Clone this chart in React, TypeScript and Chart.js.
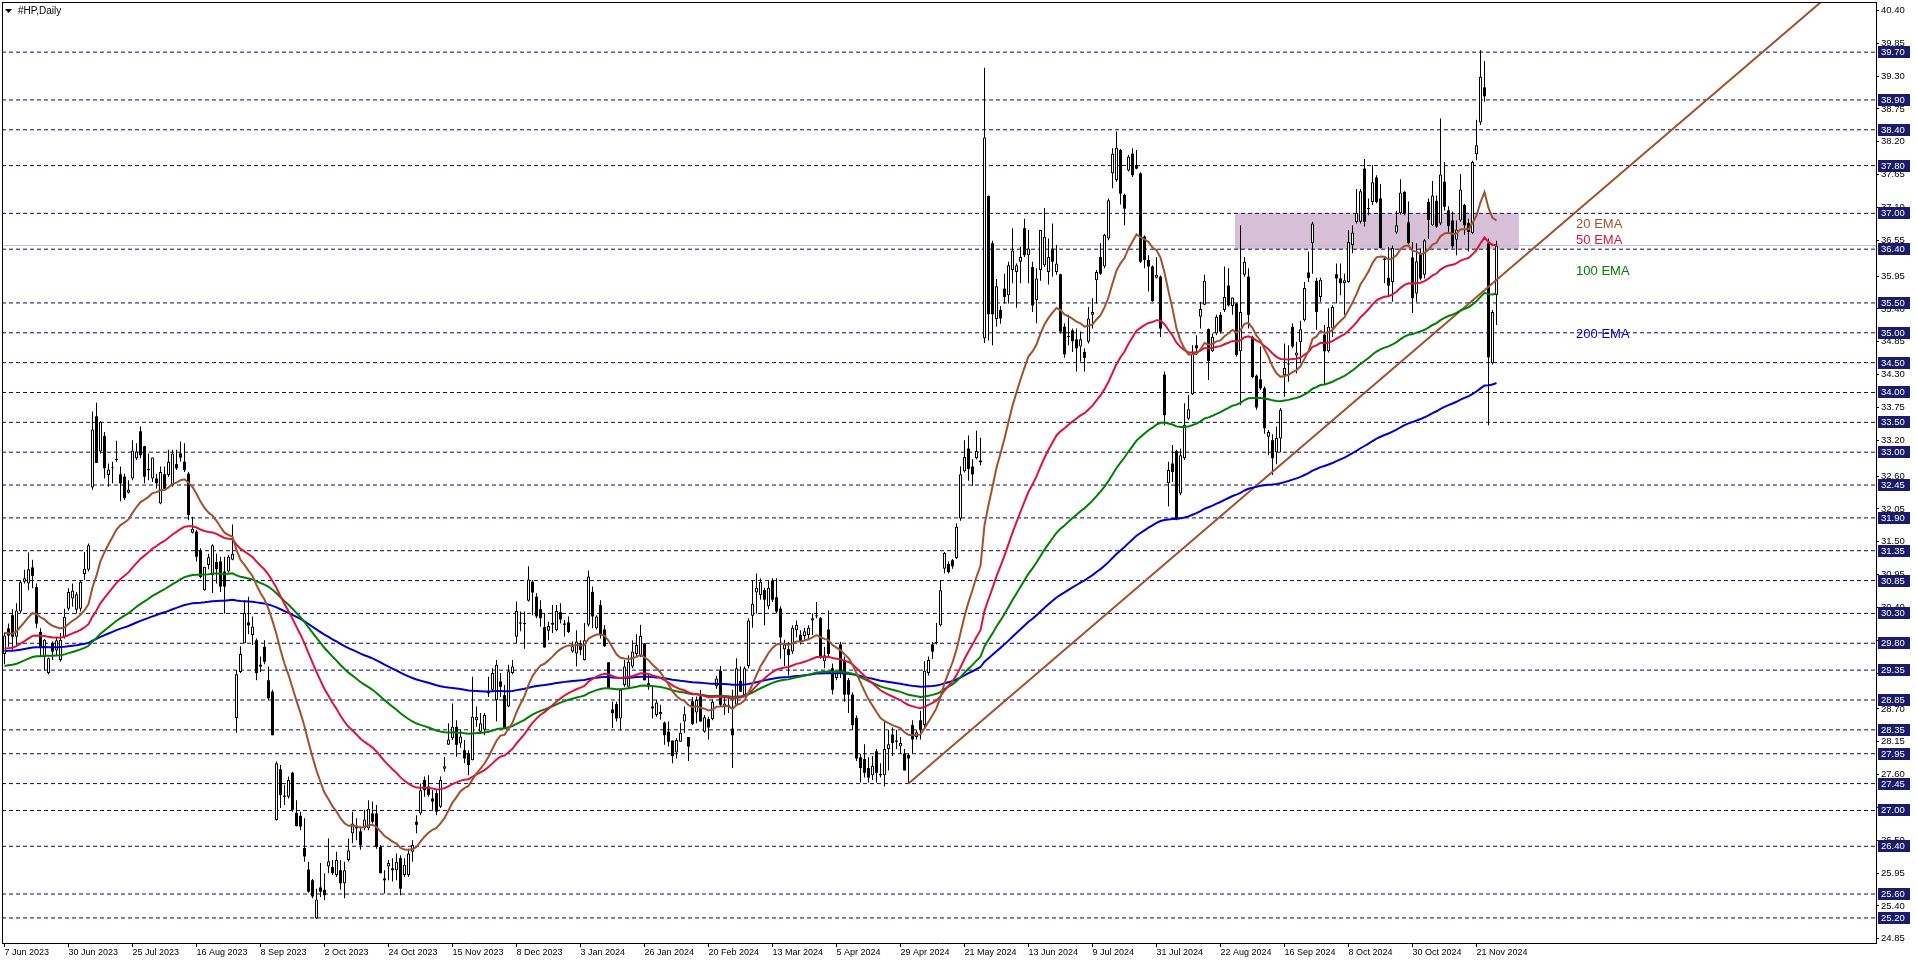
import React, { useEffect, useRef } from "react";
import { Chart, registerables } from "chart.js";

Chart.register(...registerables);

// ---- Daily OHLC of #HP, bar 0 = 7 Jun 2023 ----
const OPEN = [
  29.62,30.05,30.27,29.91,30.33,30.83,30.80,31.07,30.74,29.99,
  29.57,29.30,29.80,29.68,29.52,29.91,30.38,30.55,30.36,30.38,
  30.96,31.03,32.41,33.60,33.01,33.27,32.62,32.73,32.87,32.63,
  32.59,32.32,32.56,32.90,33.35,33.10,32.72,32.56,32.56,32.14,
  32.63,32.62,32.45,32.80,32.98,32.84,32.64,31.65,31.67,31.36,
  30.69,31.11,30.94,31.16,31.17,31.00,31.00,31.20,28.55,29.32,
  29.80,30.15,29.94,29.85,29.44,29.74,29.18,28.99,26.84,27.69,
  27.25,27.23,27.63,26.96,26.91,26.37,26.01,25.83,25.19,25.71,
  25.67,26.06,26.05,25.92,26.00,25.78,26.17,26.62,26.72,26.65,
  26.70,26.70,26.95,26.95,26.39,25.86,26.06,26.03,26.00,26.20,
  25.92,25.92,26.31,26.81,26.95,27.51,27.40,27.20,27.29,27.06,
  27.70,28.10,28.21,28.40,28.12,28.01,27.96,27.84,28.51,28.32,
  28.35,28.96,29.02,28.85,29.16,28.93,28.74,29.30,29.91,30.15,
  30.12,30.51,30.83,30.58,30.37,30.07,30.01,30.11,30.02,30.32,
  30.13,30.15,29.66,29.63,29.80,29.52,30.11,30.66,30.05,30.44,
  30.03,29.48,28.69,28.78,28.54,29.10,29.07,29.41,29.62,29.60,
  29.80,29.13,28.74,28.60,28.61,28.47,28.32,28.17,27.97,28.15,
  28.49,28.23,28.83,28.64,28.91,28.32,28.53,28.53,29.08,29.34,
  28.74,28.74,28.37,28.77,29.17,28.93,29.42,30.26,30.65,30.61,
  30.69,30.42,30.85,30.57,30.38,29.70,29.70,29.66,30.02,29.94,
  29.92,29.94,30.18,30.25,30.22,29.50,30.03,29.38,29.22,29.78,
  29.50,29.18,28.94,28.55,27.89,27.86,27.71,27.59,27.99,27.61,
  27.59,28.03,28.27,28.17,28.07,27.95,27.93,28.43,28.23,28.51,
  28.43,29.30,29.78,29.80,30.10,31.05,31.13,31.19,31.23,31.89,
  32.68,33.06,32.76,32.90,32.86,34.91,37.29,36.50,35.23,35.38,
  35.74,35.63,36.05,36.02,36.19,36.75,36.30,36.10,35.55,36.05,
  36.13,36.02,36.41,36.02,35.98,35.10,34.93,35.04,34.89,34.77,
  34.68,34.85,35.30,35.88,36.27,36.11,36.58,37.67,37.56,38.06,
  37.31,37.72,38.00,37.81,37.67,36.61,36.22,36.11,35.92,35.94,
  34.30,32.48,32.81,33.02,32.31,32.90,33.56,33.97,34.79,35.27,
  35.47,35.06,34.69,34.99,35.30,35.38,35.79,35.45,35.49,34.69,
  35.97,35.94,34.93,34.28,34.22,34.07,33.26,33.20,33.00,33.23,
  34.29,34.47,35.10,34.62,34.84,35.21,36.01,36.50,35.87,35.60,
  34.97,34.69,35.07,35.98,35.91,35.83,35.85,36.47,36.85,36.86,
  37.75,37.07,37.19,37.60,37.25,36.24,35.92,35.85,36.68,37.00,
  37.36,36.85,36.26,35.66,36.33,35.97,37.19,36.80,37.21,36.83,
  37.53,37.05,36.88,36.56,36.88,37.14,36.84,36.67,37.99,38.52,
  39.11,36.50,34.49,35.63,
];
const HIGH = [
  29.98,30.13,30.37,30.47,30.86,31.03,31.32,31.20,30.80,30.05,
  29.87,29.56,29.83,29.90,29.97,30.38,30.72,30.80,30.66,30.86,
  31.33,31.47,33.68,33.83,33.52,33.34,32.81,32.84,33.19,32.76,
  32.64,32.53,33.20,33.15,33.43,33.11,32.98,32.91,32.64,32.76,
  32.76,33.04,33.04,33.04,33.18,33.15,32.67,31.92,31.70,31.39,
  31.08,31.30,31.46,31.30,31.25,31.25,31.28,31.79,29.35,29.75,
  30.52,30.58,30.25,29.88,29.58,29.85,29.41,29.02,27.82,27.76,
  27.43,27.57,27.65,27.17,26.98,26.87,26.14,25.85,25.69,26.12,
  25.95,26.53,26.17,26.31,26.17,26.14,26.53,26.98,26.87,26.73,
  27.01,27.17,27.15,27.09,26.42,26.00,26.17,26.20,26.28,26.25,
  26.20,26.36,26.50,26.92,27.45,27.57,27.59,27.34,27.34,27.57,
  27.90,28.46,28.79,28.51,28.35,28.18,28.01,29.24,28.74,28.63,
  28.63,29.24,29.38,29.52,29.30,29.10,29.44,29.52,30.50,30.33,
  30.33,31.09,30.86,30.64,30.52,30.30,30.16,30.44,30.44,30.47,
  30.19,30.25,29.83,30.02,29.85,30.14,31.02,30.75,30.27,30.52,
  30.10,29.48,28.82,28.82,29.02,29.52,29.60,29.85,29.95,30.11,
  29.80,29.27,29.07,28.85,28.77,28.49,28.49,28.17,28.21,28.46,
  28.74,28.23,28.90,28.91,29.02,28.60,28.57,28.86,29.25,29.42,
  28.91,28.88,29.02,29.55,29.41,29.41,30.22,30.85,30.97,30.89,
  30.73,30.85,30.89,30.89,30.42,29.86,29.82,30.10,30.18,30.02,
  30.06,30.10,30.30,30.49,30.24,29.74,30.35,29.46,29.34,29.82,
  29.58,29.22,28.98,28.59,27.95,28.11,27.89,27.91,28.03,27.79,
  28.51,28.35,28.39,28.35,28.23,28.03,27.95,28.51,28.35,28.67,
  29.50,29.58,29.82,30.14,30.85,31.33,31.17,31.21,31.81,32.76,
  33.20,33.28,32.88,33.36,33.24,39.44,37.30,36.54,35.90,35.45,
  35.99,36.19,36.75,36.16,36.44,36.91,36.72,36.19,36.08,36.72,
  37.09,36.58,36.83,36.47,35.99,35.16,35.30,35.07,35.07,35.02,
  34.74,35.43,35.58,36.05,36.50,36.66,37.25,38.09,38.37,38.08,
  37.33,37.98,38.09,38.06,37.69,36.63,36.30,36.13,36.27,35.96,
  34.35,32.84,33.12,33.04,33.06,33.82,33.96,34.79,34.96,35.52,
  35.97,35.07,34.99,35.30,35.35,36.11,36.08,35.59,35.50,36.80,
  36.27,36.08,34.95,34.30,34.77,34.10,33.37,33.30,33.43,33.74,
  34.82,34.79,35.16,34.85,35.20,35.85,36.36,36.86,35.92,35.92,
  35.13,35.41,35.46,36.16,36.16,35.99,36.72,36.80,37.41,37.41,
  37.91,37.25,37.81,37.64,37.49,36.26,36.44,36.46,37.04,37.57,
  37.37,37.20,36.52,36.50,36.41,36.57,37.25,37.54,37.30,38.59,
  37.86,37.12,37.03,36.88,37.66,37.16,36.91,37.88,38.57,39.73,
  39.55,36.58,35.38,36.54,
];
const LOW = [
  29.45,29.74,29.69,29.74,30.30,30.80,30.69,30.72,30.05,29.57,
  29.35,29.28,29.52,29.60,29.49,29.88,30.35,30.41,30.30,30.33,
  30.86,31.00,32.37,32.82,32.98,32.56,32.42,32.48,32.84,32.18,
  32.20,32.31,32.53,32.87,32.90,32.48,32.53,32.50,32.39,32.13,
  32.37,32.59,32.42,32.70,32.84,32.67,31.86,31.64,31.17,30.89,
  30.68,31.04,30.64,30.80,30.66,30.30,30.98,31.19,28.30,29.30,
  29.80,29.95,29.77,29.18,29.32,29.45,28.85,28.26,26.83,27.04,
  27.09,27.20,26.98,26.73,26.67,26.14,25.62,25.53,25.18,25.55,
  25.50,25.95,25.92,25.89,25.67,25.53,26.14,26.45,26.50,26.34,
  26.67,26.67,26.78,26.36,25.95,25.61,25.83,25.81,25.83,25.58,
  25.89,25.89,26.14,26.62,26.92,27.23,27.23,27.01,26.92,27.04,
  27.65,28.10,28.18,27.90,28.05,27.79,27.59,27.84,28.40,28.29,
  28.26,28.90,28.99,28.49,28.90,28.37,28.73,29.28,29.80,30.00,
  29.71,30.50,30.27,30.22,30.08,29.73,29.85,29.97,30.00,30.13,
  29.91,29.97,29.64,29.41,29.60,29.51,30.08,30.05,30.03,29.88,
  29.74,29.04,28.38,28.49,28.34,29.07,29.04,29.38,29.58,29.57,
  29.18,29.02,28.54,28.57,28.52,28.10,28.07,27.79,27.87,28.15,
  28.30,27.83,28.43,28.46,28.49,28.30,28.19,28.51,29.04,28.74,
  28.60,28.63,27.71,28.75,28.99,28.90,29.38,30.06,30.30,30.53,
  30.10,30.37,30.49,30.30,29.54,29.42,29.26,29.62,29.90,29.78,
  29.86,29.86,29.94,30.22,29.54,29.38,29.58,28.94,29.18,29.22,
  28.82,28.63,28.35,27.83,27.47,27.55,27.47,27.51,27.47,27.55,
  27.40,27.67,27.91,28.03,27.95,27.67,27.45,27.95,28.19,28.19,
  28.35,29.26,29.54,29.78,30.08,30.97,30.97,31.05,31.21,31.85,
  32.66,32.52,32.44,32.88,32.78,34.83,34.87,34.79,35.10,35.15,
  35.49,35.49,35.83,35.42,35.83,36.27,35.83,35.35,35.16,35.87,
  36.10,35.81,35.94,35.97,34.99,34.58,34.79,34.68,34.35,34.52,
  34.35,34.82,35.07,35.49,35.97,36.08,36.55,37.42,37.53,37.15,
  36.80,37.70,37.61,37.74,36.17,36.08,35.69,35.52,35.91,34.93,
  33.45,32.09,32.50,31.86,32.28,32.87,33.54,33.96,34.63,35.07,
  35.46,34.21,34.68,34.96,34.99,35.35,35.44,35.30,34.60,33.79,
  35.94,35.07,34.24,33.71,34.04,33.31,32.95,32.62,32.80,33.00,
  33.93,34.18,34.74,34.32,34.49,35.19,35.85,35.99,35.05,35.52,
  34.13,34.67,34.93,35.49,35.63,35.30,35.84,36.33,36.83,36.83,
  36.78,36.97,37.14,37.17,36.41,35.83,35.60,35.52,36.66,36.98,
  36.97,36.48,35.33,35.52,35.88,35.91,36.57,36.79,36.76,36.80,
  37.05,36.69,36.41,36.30,36.86,36.64,36.36,36.66,37.89,38.48,
  38.87,33.45,34.47,35.13,
];
const CLOSE = [
  29.93,29.93,29.91,30.35,30.82,30.89,31.04,30.93,30.13,29.74,
  29.86,29.55,29.66,29.85,29.86,30.24,30.66,30.68,30.62,30.83,
  31.05,31.44,33.38,32.82,33.51,32.73,32.71,32.75,32.89,32.48,
  32.23,32.37,33.03,33.01,32.95,32.59,32.70,32.91,32.48,32.67,
  32.39,32.84,32.98,32.73,32.91,32.70,31.95,31.72,31.25,30.91,
  31.08,31.24,31.44,31.04,30.75,30.75,31.25,31.30,29.28,29.62,
  30.31,30.10,30.08,29.30,29.41,29.49,28.88,28.26,27.79,27.26,
  27.23,27.51,27.01,26.74,26.73,26.23,25.64,25.56,25.51,25.64,
  25.58,26.15,25.95,26.17,25.78,26.00,26.33,26.78,26.70,26.42,
  26.85,27.03,26.81,26.39,25.95,25.83,26.12,26.00,26.14,25.69,
  26.09,26.28,26.42,26.76,27.34,27.34,27.26,27.15,26.98,27.51,
  27.74,28.19,28.40,28.10,28.24,27.87,27.76,28.57,28.57,28.46,
  28.60,28.99,29.30,29.44,29.07,28.38,29.33,29.41,30.34,30.13,
  30.14,30.87,30.65,30.25,30.22,29.73,30.09,30.14,30.34,30.20,
  30.11,29.99,29.75,29.83,29.69,29.85,30.92,30.25,30.25,29.94,
  29.75,29.04,28.63,28.54,29.02,29.41,29.49,29.66,29.77,29.92,
  29.18,29.07,28.71,28.81,28.65,28.26,28.15,27.91,28.18,28.30,
  28.61,28.07,28.45,28.85,28.49,28.56,28.39,28.82,29.21,28.77,
  28.79,28.77,28.26,29.38,28.99,29.38,30.18,30.46,30.73,30.83,
  30.53,30.73,30.53,30.33,29.90,29.78,29.60,30.06,30.11,29.84,
  30.00,30.06,30.22,30.27,29.58,29.60,29.62,29.02,29.32,29.30,
  28.94,28.94,28.43,27.87,27.71,27.63,27.55,27.75,27.63,27.59,
  28.03,28.11,28.13,28.15,28.13,27.67,27.87,28.19,28.31,28.35,
  29.34,29.52,29.66,29.82,30.69,31.31,30.99,31.09,31.75,32.63,
  32.92,32.72,32.63,33.02,32.83,38.27,35.31,35.31,35.78,35.24,
  35.60,36.13,36.38,36.13,36.27,36.30,36.41,35.46,35.91,36.72,
  36.61,36.27,36.19,36.16,35.02,34.64,34.95,34.86,34.74,34.89,
  34.58,35.24,35.35,36.02,35.99,36.64,37.22,38.00,38.10,37.33,
  37.08,37.95,37.64,37.75,36.19,36.22,36.11,35.53,35.97,35.07,
  33.62,32.70,32.67,31.89,32.95,33.46,33.72,34.65,34.74,35.40,
  35.87,34.53,34.93,35.27,35.02,35.60,35.46,35.59,34.63,35.35,
  36.19,35.30,34.26,33.75,34.07,33.40,33.34,32.90,33.24,33.71,
  34.41,34.49,34.77,34.67,35.06,35.75,35.92,36.83,35.35,35.89,
  34.69,35.10,35.43,35.91,35.83,35.88,36.52,36.68,37.01,37.37,
  36.86,37.09,37.52,37.19,36.42,36.22,35.79,36.42,36.80,37.35,
  37.00,36.50,35.58,36.20,35.91,36.55,36.89,37.30,36.78,37.65,
  37.11,36.79,36.45,36.73,37.40,36.80,36.69,37.86,38.14,39.29,
  38.96,34.59,35.35,36.46,
];

// ---- axis labels ----
const TICK_STEP = 16; // a date label every 16 bars
const TICK_LABELS = [
  "7 Jun 2023", "30 Jun 2023", "25 Jul 2023", "16 Aug 2023", "8 Sep 2023", "2 Oct 2023",
  "24 Oct 2023", "15 Nov 2023", "8 Dec 2023", "3 Jan 2024", "26 Jan 2024", "20 Feb 2024",
  "13 Mar 2024", "5 Apr 2024", "29 Apr 2024", "21 May 2024", "13 Jun 2024", "9 Jul 2024",
  "31 Jul 2024", "22 Aug 2024", "16 Sep 2024", "8 Oct 2024", "30 Oct 2024", "21 Nov 2024",
];
const Y_TICKS = [
  40.40, 39.85, 39.30, 38.75, 38.20, 37.65, 37.10, 36.55, 35.95, 35.40, 34.85, 34.30,
  33.75, 33.20, 32.60, 32.05, 31.50, 30.95, 30.40, 29.85, 29.30, 28.70, 28.15, 27.60,
  27.05, 26.50, 25.95, 25.40, 24.85,
];

// ---- drawn objects ----
const LEVELS = [
  39.70, 38.90, 38.40, 37.80, 37.00, 36.40, 35.50, 35.00, 34.50, 34.00, 33.50, 33.00,
  32.45, 31.90, 31.35, 30.85, 30.30, 29.80, 29.35, 28.85, 28.35, 27.95, 27.45, 27.00,
  26.40, 25.60, 25.20,
];
const EMA_PERIODS = [20, 50, 100, 200];
const EMA_START = [29.97, 29.71, 29.42, 29.67]; // indicator values on bar 0
const EMA_COLORS = ["#A0522D", "#DC143C", "#008000", "#0000CD"];
const EMA_NAMES = ["20 EMA", "50 EMA", "100 EMA", "200 EMA"];
const EMA_NAME_PRICE = [36.82, 36.54, 36.02, 34.98];
const EMA_NAME_BAR = 392.9;
const TREND_BARS = [226, 455];
const TREND_PRICES = [27.45, 40.59];
const ZONE_BARS = [307.6, 378.6];
const ZONE_PRICES = [36.40, 37.00];

const X_MIN = -0.625;
const X_MAX = 467.875;
const Y_MIN = 24.78;
const Y_MAX = 40.54;

const NAVY = "#1b1b6b";
const DASH_COLOR = "#0c0c58";
const FONT = "'Liberation Sans', Arial, sans-serif";

export default function App() {
  const ref = useRef<HTMLCanvasElement | null>(null);

  useEffect(() => {
    const canvas = ref.current;
    if (!canvas) return;

    const wicks: any[] = [];
    const bull: any[] = [];
    const bear: any[] = [];
    for (let i = 0; i < CLOSE.length; i++) {
      wicks.push({ x: i, y: [LOW[i], HIGH[i]] });
      if (CLOSE[i] >= OPEN[i]) bull.push({ x: i, y: [OPEN[i], CLOSE[i]] });
      else bear.push({ x: i, y: [CLOSE[i], OPEN[i]] });
    }

    const emaSets = EMA_PERIODS.map((p, k) => {
      const a = 2 / (p + 1);
      let e = EMA_START[k];
      const data = CLOSE.map((c, i) => {
        if (i > 0) e = e + a * (c - e);
        return { x: i, y: e };
      });
      return {
        type: "line",
        data,
        borderColor: EMA_COLORS[k],
        borderWidth: 2,
        pointRadius: 0,
        tension: 0,
        fill: false,
        order: 1,
      };
    });

    const last = CLOSE[CLOSE.length - 1];
    const barCommon = {
      type: "bar",
      grouped: false,
      inflateAmount: 0,
      borderSkipped: false,
      minBarLength: 1,
    };

    const datasets: any[] = [
      {
        type: "line",
        data: [
          { x: ZONE_BARS[0], y: ZONE_PRICES[1] },
          { x: ZONE_BARS[1], y: ZONE_PRICES[1] },
        ],
        fill: { value: ZONE_PRICES[0] },
        backgroundColor: "#D8BFD8",
        borderColor: "rgba(0,0,0,0)",
        borderWidth: 1,
        pointRadius: 0,
        order: 10,
      },
      ...LEVELS.map((v) => ({
        type: "line",
        data: [
          { x: X_MIN, y: v },
          { x: X_MAX, y: v },
        ],
        borderColor: DASH_COLOR,
        borderWidth: 1,
        borderDash: [4, 3],
        pointRadius: 0,
        fill: false,
        order: 9,
      })),
      {
        type: "line",
        data: [
          { x: X_MIN, y: last },
          { x: X_MAX, y: last },
        ],
        borderColor: "#C0C0C0",
        borderWidth: 1,
        pointRadius: 0,
        fill: false,
        order: 8,
      },
      { ...barCommon, data: wicks, barThickness: 1, backgroundColor: "#000", borderWidth: 0, order: 6 },
      { ...barCommon, data: bull, barThickness: 3, backgroundColor: "#fff", borderColor: "#000", borderWidth: 1, order: 5 },
      { ...barCommon, data: bear, barThickness: 3, backgroundColor: "#000", borderColor: "#000", borderWidth: 0, order: 5 },
      {
        type: "line",
        data: [
          { x: TREND_BARS[0], y: TREND_PRICES[0] },
          { x: TREND_BARS[1], y: TREND_PRICES[1] },
        ],
        borderColor: "#A0522D",
        borderWidth: 2,
        pointRadius: 0,
        fill: false,
        order: 2,
      },
      ...emaSets,
    ];

    const overlay = {
      id: "overlay",
      beforeDraw(chart: any) {
        const { ctx, width, height } = chart;
        ctx.save();
        ctx.fillStyle = "#ffffff";
        ctx.fillRect(0, 0, width, height);
        ctx.restore();
      },
      afterDatasetsDraw(chart: any) {
        const { ctx, scales } = chart;
        ctx.save();
        ctx.font = `13px ${FONT}`;
        ctx.textAlign = "left";
        ctx.textBaseline = "middle";
        EMA_NAMES.forEach((t, k) => {
          ctx.fillStyle = EMA_COLORS[k];
          ctx.fillText(t, scales.x.getPixelForValue(EMA_NAME_BAR), scales.y.getPixelForValue(EMA_NAME_PRICE[k]));
        });
        ctx.restore();
      },
      afterDraw(chart: any) {
        const { ctx, chartArea, scales } = chart;
        ctx.save();
        // frame (left / top)
        ctx.fillStyle = "#000";
        ctx.fillRect(chartArea.left, chartArea.top, 1, chartArea.bottom - chartArea.top);
        ctx.fillRect(chartArea.left, chartArea.top, chartArea.right - chartArea.left, 1);
        // title
        ctx.beginPath();
        ctx.moveTo(5, 9);
        ctx.lineTo(12, 9);
        ctx.lineTo(8.5, 13);
        ctx.closePath();
        ctx.fill();
        ctx.font = `10px ${FONT}`;
        ctx.textBaseline = "middle";
        ctx.textAlign = "left";
        ctx.fillText("#HP,Daily", 18, 11);
        // level price boxes on the axis
        ctx.font = `9.5px ${FONT}`;
        LEVELS.forEach((v) => {
          const y = Math.round(scales.y.getPixelForValue(v));
          ctx.fillStyle = NAVY;
          ctx.fillRect(chartArea.right + 2, y - 6, 32, 12);
          ctx.fillStyle = "#ffffff";
          ctx.fillText(v.toFixed(2), chartArea.right + 5, y + 0.5);
        });
        ctx.restore();
      },
    };

    const chart = new Chart(canvas, {
      type: "bar",
      data: { datasets },
      options: {
        responsive: false,
        animation: false,
        devicePixelRatio: 1,
        events: [],
        layout: { padding: { top: 2, left: 2, right: 0, bottom: 0 } },
        plugins: { legend: { display: false }, tooltip: { enabled: false } },
        scales: {
          x: {
            type: "linear",
            position: "bottom",
            min: X_MIN,
            max: X_MAX,
            offset: false,
            grid: { display: true, offset: false, drawOnChartArea: false, drawTicks: true, tickLength: 4, color: "#000" },
            border: { display: true, color: "#000", width: 1 },
            ticks: {
              autoSkip: false,
              maxRotation: 0,
              minRotation: 0,
              align: "start",
              padding: 0,
              color: "#000",
              font: { family: FONT, size: 9 },
              callback: (_v: any, i: number) => TICK_LABELS[i],
            },
            afterBuildTicks: (s: any) => {
              s.ticks = TICK_LABELS.map((_, k) => ({ value: k * TICK_STEP }));
            },
            afterFit: (s: any) => {
              s.height = 20;
              s.paddingLeft = 0;
              s.paddingRight = 0;
            },
          },
          y: {
            type: "linear",
            position: "right",
            min: Y_MIN,
            max: Y_MAX,
            beginAtZero: false,
            grid: { display: true, drawOnChartArea: false, drawTicks: true, tickLength: 3, color: "#000" },
            border: { display: true, color: "#000", width: 1 },
            ticks: {
              autoSkip: false,
              padding: 2,
              color: "#000",
              font: { family: FONT, size: 9.5 },
              callback: (v: any) => Number(v).toFixed(2),
            },
            afterBuildTicks: (s: any) => {
              s.ticks = Y_TICKS.map((v) => ({ value: v }));
            },
            afterFit: (s: any) => {
              s.width = 40;
              s.paddingTop = 0;
              s.paddingBottom = 0;
            },
          },
        },
      } as any,
      plugins: [overlay],
    } as any);

    return () => chart.destroy();
  }, []);

  return (
    <div style={{ position: "fixed", left: 0, top: 0, width: 1916, height: 963, background: "#fff" }}>
      <canvas ref={ref} width={1916} height={963} style={{ display: "block", width: 1916, height: 963 }} />
    </div>
  );
}
